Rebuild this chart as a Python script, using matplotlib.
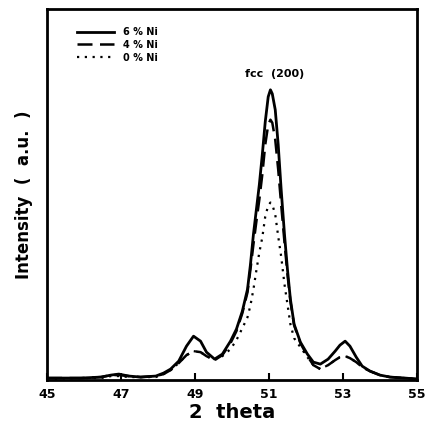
import numpy as np
import matplotlib
matplotlib.use('Agg')
import matplotlib.pyplot as plt

# 2 theta grid (deg)
theta = [45.00, 45.92, 46.46, 46.73, 46.94, 47.21, 47.53, 47.94, 48.15, 48.34,
         48.56, 48.77, 48.96, 49.15, 49.31, 49.53, 49.74, 49.96, 50.12, 50.28,
         50.42, 50.50, 50.58, 50.66, 50.74, 50.82, 50.90, 50.98, 51.04, 51.09,
         51.17, 51.25, 51.33, 51.42, 51.50, 51.58, 51.68, 51.85, 52.04, 52.20,
         52.39, 52.60, 52.79, 52.92, 53.06, 53.19, 53.36, 53.52, 53.73, 54.00,
         54.27, 54.68, 55.00]

# intensity (a.u.)
ni6 = [2, 2, 3, 5, 6, 4, 3, 4, 7, 11,
       19, 34, 44, 39, 28, 21, 26, 39, 51, 69,
       91, 116, 146, 171, 196, 226, 259, 284, 291, 287,
       271, 236, 191, 146, 111, 81, 56, 38, 26, 18,
       16, 21, 29, 35, 39, 34, 23, 14, 9, 5,
       3, 2, 1]
ni4 = [2, 2, 3, 5, 5, 4, 3, 4, 6, 10,
       17, 25, 29, 28, 24, 20, 25, 37, 49, 67,
       88, 111, 136, 159, 181, 206, 236, 256, 261, 258,
       241, 211, 176, 138, 106, 79, 55, 37, 24, 15,
       11, 15, 20, 23, 24, 22, 18, 13, 9, 5,
       3, 2, 1]
ni0 = [1, 2, 2, 4, 4, 3, 3, 3, 6, 10,
       17, 25, 29, 28, 24, 20, 24, 31, 40, 52,
       63, 75, 91, 110, 128, 143, 164, 175, 178, 176,
       166, 144, 124, 96, 76, 56, 42, 33, 23, 15,
       11, 15, 20, 23, 24, 22, 18, 13, 9, 5,
       3, 2, 1]

xticks = [45, 47, 49, 51, 53, 55]

plt.rcParams['font.family'] = ['DejaVu Sans']
plt.rcParams['font.weight'] = 'bold'

fig = plt.figure(figsize=(4.28, 4.28), dpi=100)
ax = fig.add_axes([0.110, 0.112, 0.864, 0.867])

ax.plot(theta, ni6, color='black', lw=2.0, ls='-', label='6 % Ni')
ax.plot(theta, ni4, color='black', lw=1.8, ls=(0, (6, 3)), label='4 % Ni')
ax.plot(theta, ni0, color='black', lw=1.6, ls=(0, (1, 2.5)), label='0 % Ni')

ax.set_xlim(45, 55)
ax.set_ylim(0, 372)
ax.set_xticks(xticks)
ax.set_xticklabels([str(t) for t in xticks], fontsize=9, fontweight='bold')
ax.set_yticks([])
ax.tick_params(axis='x', direction='in', length=5, width=1.5, pad=6)
for s in ax.spines.values():
    s.set_linewidth(2)

ax.set_xlabel('2  theta', fontsize=14, fontweight='bold', labelpad=1)
ax.set_ylabel('Intensity  (  a.u.  )', fontsize=12, fontweight='bold', labelpad=10)

ax.text(51.15, 302, 'fcc  (200)', ha='center', va='bottom', fontsize=8, fontweight='bold')

leg = ax.legend(loc='upper left', bbox_to_anchor=(0.07, 0.962), frameon=False,
                fontsize=7, handlelength=3.8, handletextpad=0.9, labelspacing=0.3,
                borderaxespad=0)
for t in leg.get_texts():
    t.set_fontweight('bold')

fig.savefig('out.png', dpi=100)
